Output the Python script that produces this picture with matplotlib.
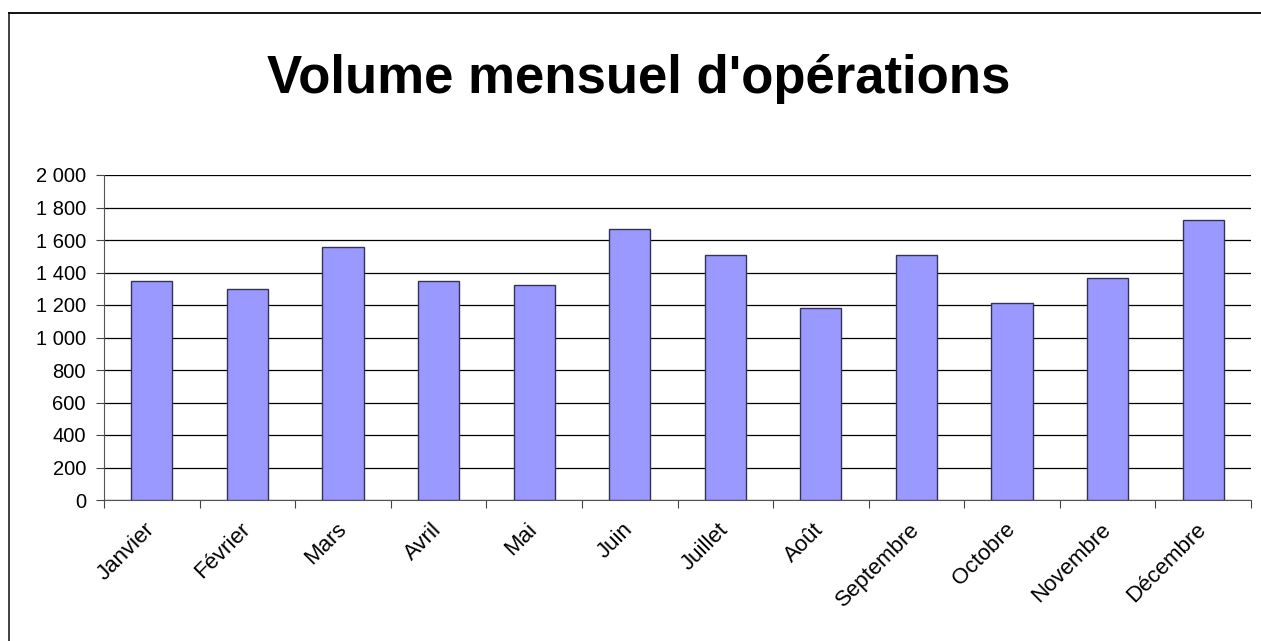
import matplotlib
matplotlib.use('Agg')
import matplotlib.pyplot as plt
import matplotlib.transforms as mtransforms
from matplotlib.lines import Line2D
from matplotlib.ticker import FuncFormatter
import numpy as np

plt.rcParams['font.family'] = ['Liberation Sans', 'DejaVu Sans']

months = ['Janvier', 'Février', 'Mars', 'Avril', 'Mai', 'Juin', 'Juillet',
          'Août', 'Septembre', 'Octobre', 'Novembre', 'Décembre']
volumes = [1350, 1300, 1560, 1350, 1325, 1670, 1505, 1180, 1505, 1210, 1365, 1725]
y_ticks = [0, 200, 400, 600, 800, 1000, 1200, 1400, 1600, 1800, 2000]

fig = plt.figure(figsize=(12.61, 6.41), dpi=100)
ax = fig.add_axes([104/1261, 1 - 500/641, 1147/1261, 325/641])

x = np.arange(len(months))
ax.bar(x + 0.5, volumes, width=0.43, color='#9999ff', edgecolor='#333355',
       linewidth=1.0, zorder=3)

ax.set_xlim(0, len(months))
ax.set_ylim(0, 2000)
ax.set_yticks(y_ticks)
ax.yaxis.set_major_formatter(FuncFormatter(lambda v, p: '{:,}'.format(int(v)).replace(',', ' ')))
ax.grid(axis='y', color='black', linewidth=0.9, zorder=0)
ax.set_axisbelow(True)

ax.set_xticks(np.arange(len(months) + 1))
ax.set_xticklabels([])
ax.set_xticks(x + 0.5, minor=True)
ax.set_xticklabels(months, minor=True, rotation=45, ha='right', va='center',
                   rotation_mode='anchor', fontsize=16)
shift = mtransforms.ScaledTranslation(-10/100, 0, fig.dpi_scale_trans)
for lbl in ax.get_xticklabels(minor=True):
    lbl.set_transform(lbl.get_transform() + shift)
ax.tick_params(axis='x', which='minor', length=0, pad=19)
ax.tick_params(axis='x', which='major', length=6, color='#444444')
ax.tick_params(axis='y', length=6, color='#444444', labelsize=14.5, pad=7)

for s in ['top', 'right']:
    ax.spines[s].set_visible(False)
ax.spines['left'].set_color('#555555')
ax.spines['bottom'].set_color('#555555')

fig.text(639/1261, 1 - 93/641, "Volume mensuel d'opérations", ha='center', va='baseline',
         fontsize=38, fontweight='bold')

# outer frame (left and top edges visible)
fig.add_artist(Line2D([8.5/1261, 8.5/1261], [0, 1 - 12.5/641], transform=fig.transFigure,
                      color='#333333', linewidth=1.3))
fig.add_artist(Line2D([8.5/1261, 1], [1 - 12.5/641, 1 - 12.5/641], transform=fig.transFigure,
                      color='black', linewidth=1.3))

fig.savefig('out.png', dpi=100)
